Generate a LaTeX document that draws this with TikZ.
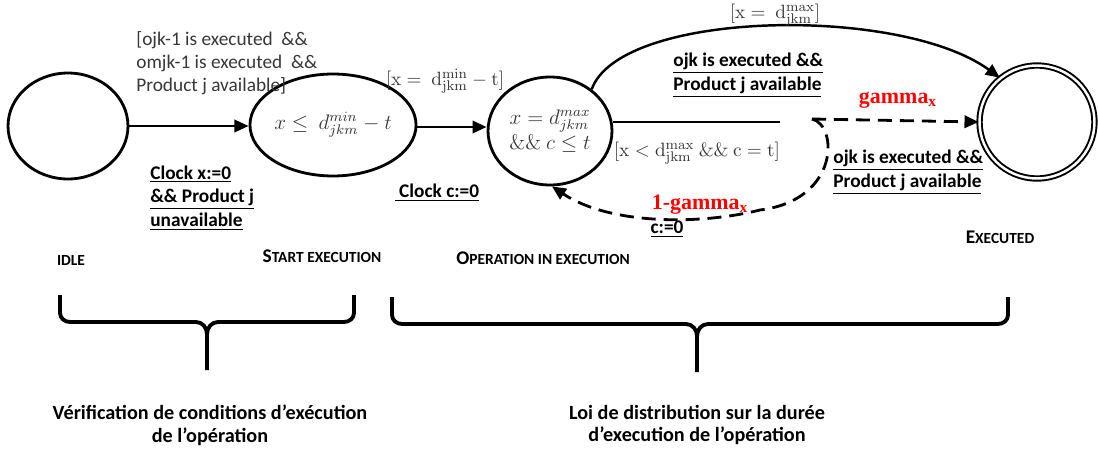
\documentclass[tikz,border=0pt]{standalone}
\usepackage[no-math]{fontspec}
\setmainfont{Carlito}
\newfontfamily\cambria{Liberation Serif}
\usetikzlibrary{shapes.geometric,arrows.meta}
\definecolor{txtgray}{RGB}{55,55,55}
\definecolor{gred}{RGB}{255,0,0}
\tikzset{
  state/.style={ellipse,draw,line width=1.6pt,inner sep=0pt},
  conn/.style={line width=1.4pt,-{Triangle[length=8pt,width=7pt]}},
  dconn/.style={line width=1.6pt,dash pattern=on 8pt off 4.5pt},
  guard/.style={text=txtgray,inner sep=0pt,font=\fontsize{11}{13}\selectfont},
  act/.style={inner sep=0pt,align=left,font=\fontsize{11}{13.5}\selectfont\bfseries},
  prob/.style={text=gred,inner sep=0pt,font=\fontsize{12.5}{14}\selectfont\cambria\bfseries},
  sclabel/.style={inner sep=0pt,font=\bfseries},
  brace/.style={line width=2.2pt,line cap=butt,line join=round},
  bracetext/.style={inner sep=0pt,align=center,font=\fontsize{11.5}{13}\selectfont\bfseries},
  mathin/.style={text=txtgray,font=\fontsize{11.5}{14}\selectfont}
}
\newcommand{\sclab}[2]{{\fontsize{11}{12}\selectfont #1}{\fontsize{8.8}{10}\selectfont #2}}
\begin{document}
\begin{tikzpicture}[x=0.02cm,y=-0.02cm]
\useasboundingbox (0,0) rectangle (1098,453);
% states
\node[state,minimum width=2.40cm,minimum height=2.12cm] (idle) at (68,126) {};
\node[state,mathin,minimum width=2.54cm,minimum height=2.04cm] (start) at (333,125)
  {$x \leq\ d_{jkm}^{min} - t$};
\node[state,mathin,minimum width=2.48cm,minimum height=2.16cm,align=center] (op) at (550,131)
  {$x = d_{jkm}^{max}$\\[0pt] $\&\&\ c \leq t$};
\node[state,double,double distance=1.4pt,line width=1.1pt,minimum width=2.30cm,minimum height=2.26cm] (exec) at (1037,122) {};
% helper coordinates
\coordinate (solidend) at (780,122);
\coordinate (fork) at (812,119);
% connectors
\draw[conn] (idle.east) -- (start.west |- idle.east);
\draw[conn] (start.east |- 0,127) -- (op.west |- 0,127);
\draw[conn] (op.45) .. controls (620,10) and (900,5) .. (exec.130);
\draw[line width=1.4pt] (op.east |- solidend) -- (solidend);
\draw[dconn,-{Triangle[length=8pt,width=7pt]}] (fork) -- (exec.west);
\draw[dconn,-{Triangle[length=8pt,width=7pt]}] (fork) .. controls (838,125) and (840,200) .. (760,210)
   .. controls (700,225) and (610,225) .. (op.272);
% labels
\node[guard,anchor=west,align=left] (g1) at (136,63)
  {[ojk-1 is executed~ \&\&\\omjk-1 is executed~ \&\&\\Product j available]};
\node[act,anchor=west] (r1) at (150,198)
  {\underline{Clock x:=0}\\\underline{\&\& Product j}\\\underline{unavailable}};
\node[guard] (g2) at (445,81) {$[\mathrm{x} =\ \mathrm{d}_{\mathrm{jkm}}^{\mathrm{min}} - \mathrm{t}]$};
\node[act] (r2) at (437,193) {\underline{\ Clock c:=0}};
\node[guard] (g3) at (775,15) {$[\mathrm{x} =\ \mathrm{d}_{\mathrm{jkm}}^{\mathrm{max}}]$};
\node[act,anchor=west] (a3) at (673,75)
  {\underline{ojk is executed \&\&}\\\underline{Product j available}};
\node[prob] (p1) at (898,100) {gamma\textsubscript{x}};
\node[guard] (g4) at (697,153) {$[\mathrm{x} < \mathrm{d}_{\mathrm{jkm}}^{\mathrm{max}}\ \&\&\ \mathrm{c} = \mathrm{t}]$};
\node[act,anchor=west] (a4) at (833,172)
  {\underline{ojk is executed \&\&}\\\underline{Product j available}};
\node[prob] (p2) at (700,205) {1-gamma\textsubscript{x}};
\node[act] (r4) at (667,229) {\underline{c:=0}};
% state names
\node[sclabel] (lidle) at (71,260) {\sclab{}{IDLE}};
\node[sclabel] (lstart) at (322,256) {\sclab{S}{TART EXECUTION}};
\node[sclabel] (lop) at (543,258) {\sclab{O}{PERATION IN EXECUTION}};
\node[sclabel] (lexec) at (1000,237) {\sclab{E}{XECUTED}};
% braces
\draw[brace] (60,295) -- (60,313) to[out=-90,in=180] (70,322) -- (196,322) to[out=0,in=90] (207,334) -- (207,370);
\draw[brace] (354,295) -- (354,313) to[out=-90,in=0] (344,322) -- (218,322) to[out=180,in=90] (207,334);
\draw[brace] (392,297) -- (392,315) to[out=-90,in=180] (402,324) -- (686,324) to[out=0,in=90] (697,336) -- (697,372);
\draw[brace] (1008,297) -- (1008,315) to[out=-90,in=0] (998,324) -- (708,324) to[out=180,in=90] (697,336);
\node[bracetext] (t1) at (210,425) {Vérification de conditions d’exécution\\de l’opération};
\node[bracetext] (t2) at (697,425) {Loi de distribution sur la durée\\d’execution de l’opération};
\end{tikzpicture}
\end{document}
